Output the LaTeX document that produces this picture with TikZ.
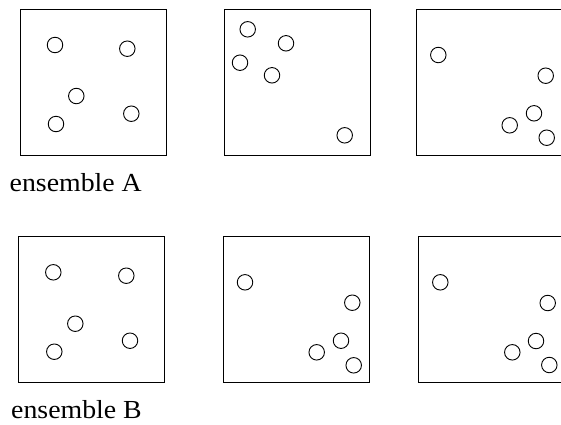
\documentclass[tikz,border=0pt]{standalone}
\usepackage{fontspec}
\setmainfont{Liberation Serif}
\begin{document}
\begin{tikzpicture}[x=1pt,y=-1pt,
  panel/.style={draw,line width=1pt},
  dot/.style={draw,line width=0.9pt,circle,minimum size=15.5pt,inner sep=0pt},
  label/.style={anchor=base west,inner sep=0pt,font=\fontsize{26}{30}\selectfont,xscale=1.07}]
\useasboundingbox (0,0) rectangle (561,424);
\clip (0,0) rectangle (561,424);
% row A
\draw[panel] (20,9.5) rectangle (166,155);
\node[dot] (a1) at (55,45) {};
\node[dot] (a2) at (127.3,48.7) {};
\node[dot] (a3) at (76.3,96) {};
\node[dot] (a4) at (56,124) {};
\node[dot] (a5) at (131.3,113.7) {};
\draw[panel] (224.3,9.5) rectangle (370.3,155);
\node[dot] (b1) at (247.7,29.3) {};
\node[dot] (b2) at (286,43.3) {};
\node[dot] (b3) at (240,62.7) {};
\node[dot] (b4) at (272,75.3) {};
\node[dot] (b5) at (344.7,135.3) {};
\draw[panel] (416,9.5) rectangle (562,155);
\node[dot] (c1) at (438.3,55) {};
\node[dot] (c2) at (545.7,75.7) {};
\node[dot] (c3) at (534,113.3) {};
\node[dot] (c4) at (509.7,125.3) {};
\node[dot] (c5) at (546.7,137.7) {};
\node[label] (la) at (9.5,191) {ensemble A};
% row B
\draw[panel] (18.3,236.7) rectangle (164.7,382.7);
\node[dot] (d1) at (53.3,272.3) {};
\node[dot] (d2) at (126.3,275.7) {};
\node[dot] (d3) at (75.3,323.7) {};
\node[dot] (d4) at (54.3,351.7) {};
\node[dot] (d5) at (130,340.7) {};
\draw[panel] (223.3,236.7) rectangle (369.3,382.7);
\node[dot] (e1) at (245,282.3) {};
\node[dot] (e2) at (352.3,302.7) {};
\node[dot] (e3) at (341,340.7) {};
\node[dot] (e4) at (316.7,352.3) {};
\node[dot] (e5) at (353.7,365.3) {};
\draw[panel] (418.7,236.7) rectangle (565,382.7);
\node[dot] (f1) at (440.3,282.3) {};
\node[dot] (f2) at (547.7,303) {};
\node[dot] (f3) at (536,341) {};
\node[dot] (f4) at (512.3,352.3) {};
\node[dot] (f5) at (549.3,365) {};
\node[label] (lb) at (11,418.3) {ensemble B};
\end{tikzpicture}
\end{document}
